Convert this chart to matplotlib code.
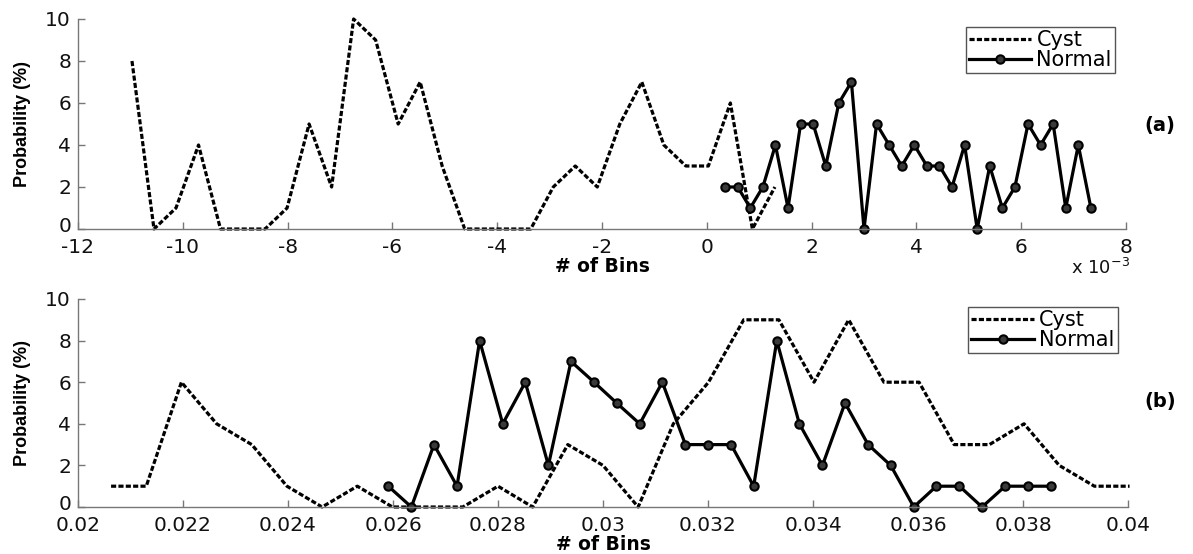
import matplotlib
matplotlib.use("Agg")
import matplotlib.pyplot as plt
import matplotlib.transforms as mtransforms

plt.rcParams['font.family'] = ['DejaVu Sans']
plt.rcParams['axes.unicode_minus'] = False

# panel (a): bin centres in units of 1e-3
cyst_a_x = [-10.97, -10.55, -10.13, -9.70, -9.28, -8.86, -8.43, -8.01, -7.59, -7.16,
            -6.74, -6.32, -5.89, -5.47, -5.05, -4.62, -4.20, -3.78, -3.36, -2.93,
            -2.51, -2.09, -1.66, -1.24, -0.82, -0.40, 0.03, 0.45, 0.87, 1.30]
cyst_a_y = [8, 0, 1, 4, 0, 0, 0, 1, 5, 2, 10, 9, 5, 7, 3, 0, 0, 0, 0, 2,
            3, 2, 5, 7, 4, 3, 3, 6, 0, 2]
normal_a_x = [0.35, 0.59, 0.83, 1.07, 1.31, 1.55, 1.79, 2.03, 2.27, 2.52,
              2.76, 3.00, 3.24, 3.48, 3.72, 3.96, 4.20, 4.44, 4.68, 4.92,
              5.16, 5.40, 5.64, 5.88, 6.13, 6.37, 6.61, 6.85, 7.09, 7.33]
normal_a_y = [2, 2, 1, 2, 4, 1, 5, 5, 3, 6, 7, 0, 5, 4, 3, 4, 3, 3, 2, 4,
              0, 3, 1, 2, 5, 4, 5, 1, 4, 1]

# panel (b)
cyst_b_x = [0.02063, 0.02130, 0.02197, 0.02264, 0.02331, 0.02398, 0.02465, 0.02532,
            0.02599, 0.02666, 0.02733, 0.02800, 0.02866, 0.02933, 0.03000, 0.03067,
            0.03134, 0.03201, 0.03268, 0.03335, 0.03402, 0.03468, 0.03535, 0.03602,
            0.03669, 0.03736, 0.03802, 0.03869, 0.03936, 0.04003]
cyst_b_y = [1, 1, 6, 4, 3, 1, 0, 1, 0, 0, 0, 1, 0, 3, 2, 0, 4, 6, 9, 9,
            6, 9, 6, 6, 3, 3, 4, 2, 1, 1]
normal_b_x = [0.02591, 0.02635, 0.02678, 0.02722, 0.02765, 0.02809, 0.02852, 0.02896,
              0.02939, 0.02983, 0.03026, 0.03070, 0.03113, 0.03157, 0.03200, 0.03244,
              0.03287, 0.03331, 0.03374, 0.03418, 0.03461, 0.03505, 0.03548, 0.03592,
              0.03635, 0.03679, 0.03722, 0.03766, 0.03810, 0.03854]
normal_b_y = [1, 0, 3, 1, 8, 4, 6, 2, 7, 6, 5, 4, 6, 3, 3, 3, 1, 8, 4, 2,
              5, 3, 2, 0, 1, 1, 0, 1, 1, 1]

a_ticks = [-12, -10, -8, -6, -4, -2, 0, 2, 4, 6, 8]
b_ticks = [0.02, 0.022, 0.024, 0.026, 0.028, 0.03, 0.032, 0.034, 0.036, 0.038, 0.04]
b_ticklabels = ['0.02', '0.022', '0.024', '0.026', '0.028', '0.03',
                '0.032', '0.034', '0.036', '0.038', '0.04']
y_ticks = [0, 2, 4, 6, 8, 10]

W, H = 1193, 554
fig = plt.figure(figsize=(W / 100, H / 100), dpi=100)
ax1 = fig.add_axes([78 / W, 1 - 229 / H, 1048 / W, 210 / H])
ax2 = fig.add_axes([78 / W, 1 - 507 / H, 1050 / W, 208 / H])

cyst_style = dict(color='black', lw=2.3, linestyle=(0, (1.6, 0.7)), clip_on=False)
normal_style = dict(color='black', lw=2.3, marker='o', markersize=6,
                    markerfacecolor='#3a3a3a', markeredgecolor='black',
                    markeredgewidth=1.5, clip_on=False)


def style_axes(ax):
    for side in ['top', 'right']:
        ax.spines[side].set_visible(False)
    for side in ['left', 'bottom']:
        ax.spines[side].set_color('#777777')
        ax.spines[side].set_linewidth(1.0)
    ax.tick_params(direction='in', length=5, width=1, color='#777777',
                   labelsize=14.5, labelcolor='#111111', pad=5)
    ax.tick_params(axis='x', pad=6.5)
    ax.set_ylim(0, 10)
    ax.set_yticks(y_ticks)
    # lift the "0" a little so it does not sit on the first x tick label
    lab0 = ax.get_yticklabels()[0]
    lab0.set_transform(lab0.get_transform() +
                       mtransforms.ScaledTranslation(0, 3 / 72, fig.dpi_scale_trans))
    ax.set_ylabel('Probability (%)', fontsize=13, fontweight='bold',
                  family='Liberation Sans')
    ax.yaxis.set_label_coords(-0.045, 0.5)
    ax.set_xlabel('# of Bins', fontsize=13.5, fontweight='bold', labelpad=0)


ax1.plot(cyst_a_x, cyst_a_y, label='Cyst', **cyst_style)
ax1.plot(normal_a_x, normal_a_y, label='Normal', **normal_style)
ax1.set_xlim(-12, 8)
ax1.set_xticks(a_ticks)
style_axes(ax1)

ax2.plot(cyst_b_x, cyst_b_y, label='Cyst', **cyst_style)
ax2.plot(normal_b_x, normal_b_y, label='Normal', **normal_style)
ax2.set_xlim(0.02, 0.04)
ax2.set_xticks(b_ticks)
ax2.set_xticklabels(b_ticklabels)
style_axes(ax2)

for ax, anchor in [(ax1, (0.9895, 0.962)), (ax2, (0.990, 0.962))]:
    leg = ax.legend(loc='upper right', bbox_to_anchor=anchor, borderaxespad=0,
                    fontsize=15, handlelength=3.0, labelspacing=0.0,
                    handletextpad=0.25, borderpad=0.15, fancybox=False,
                    framealpha=1)
    leg.get_frame().set_edgecolor('#555555')
    leg.get_frame().set_linewidth(1.0)

fig.text(1130 / W, 1 - 268 / H, 'x 10$^{-3}$', ha='right', va='center',
         fontsize=13, color='#111111')
fig.text(1160 / W, 1 - 125 / H, '(a)', ha='center', va='center',
         fontsize=14, fontweight='bold')
fig.text(1160 / W, 1 - 402 / H, '(b)', ha='center', va='center',
         fontsize=14, fontweight='bold')

fig.savefig('out.png', dpi=100)
